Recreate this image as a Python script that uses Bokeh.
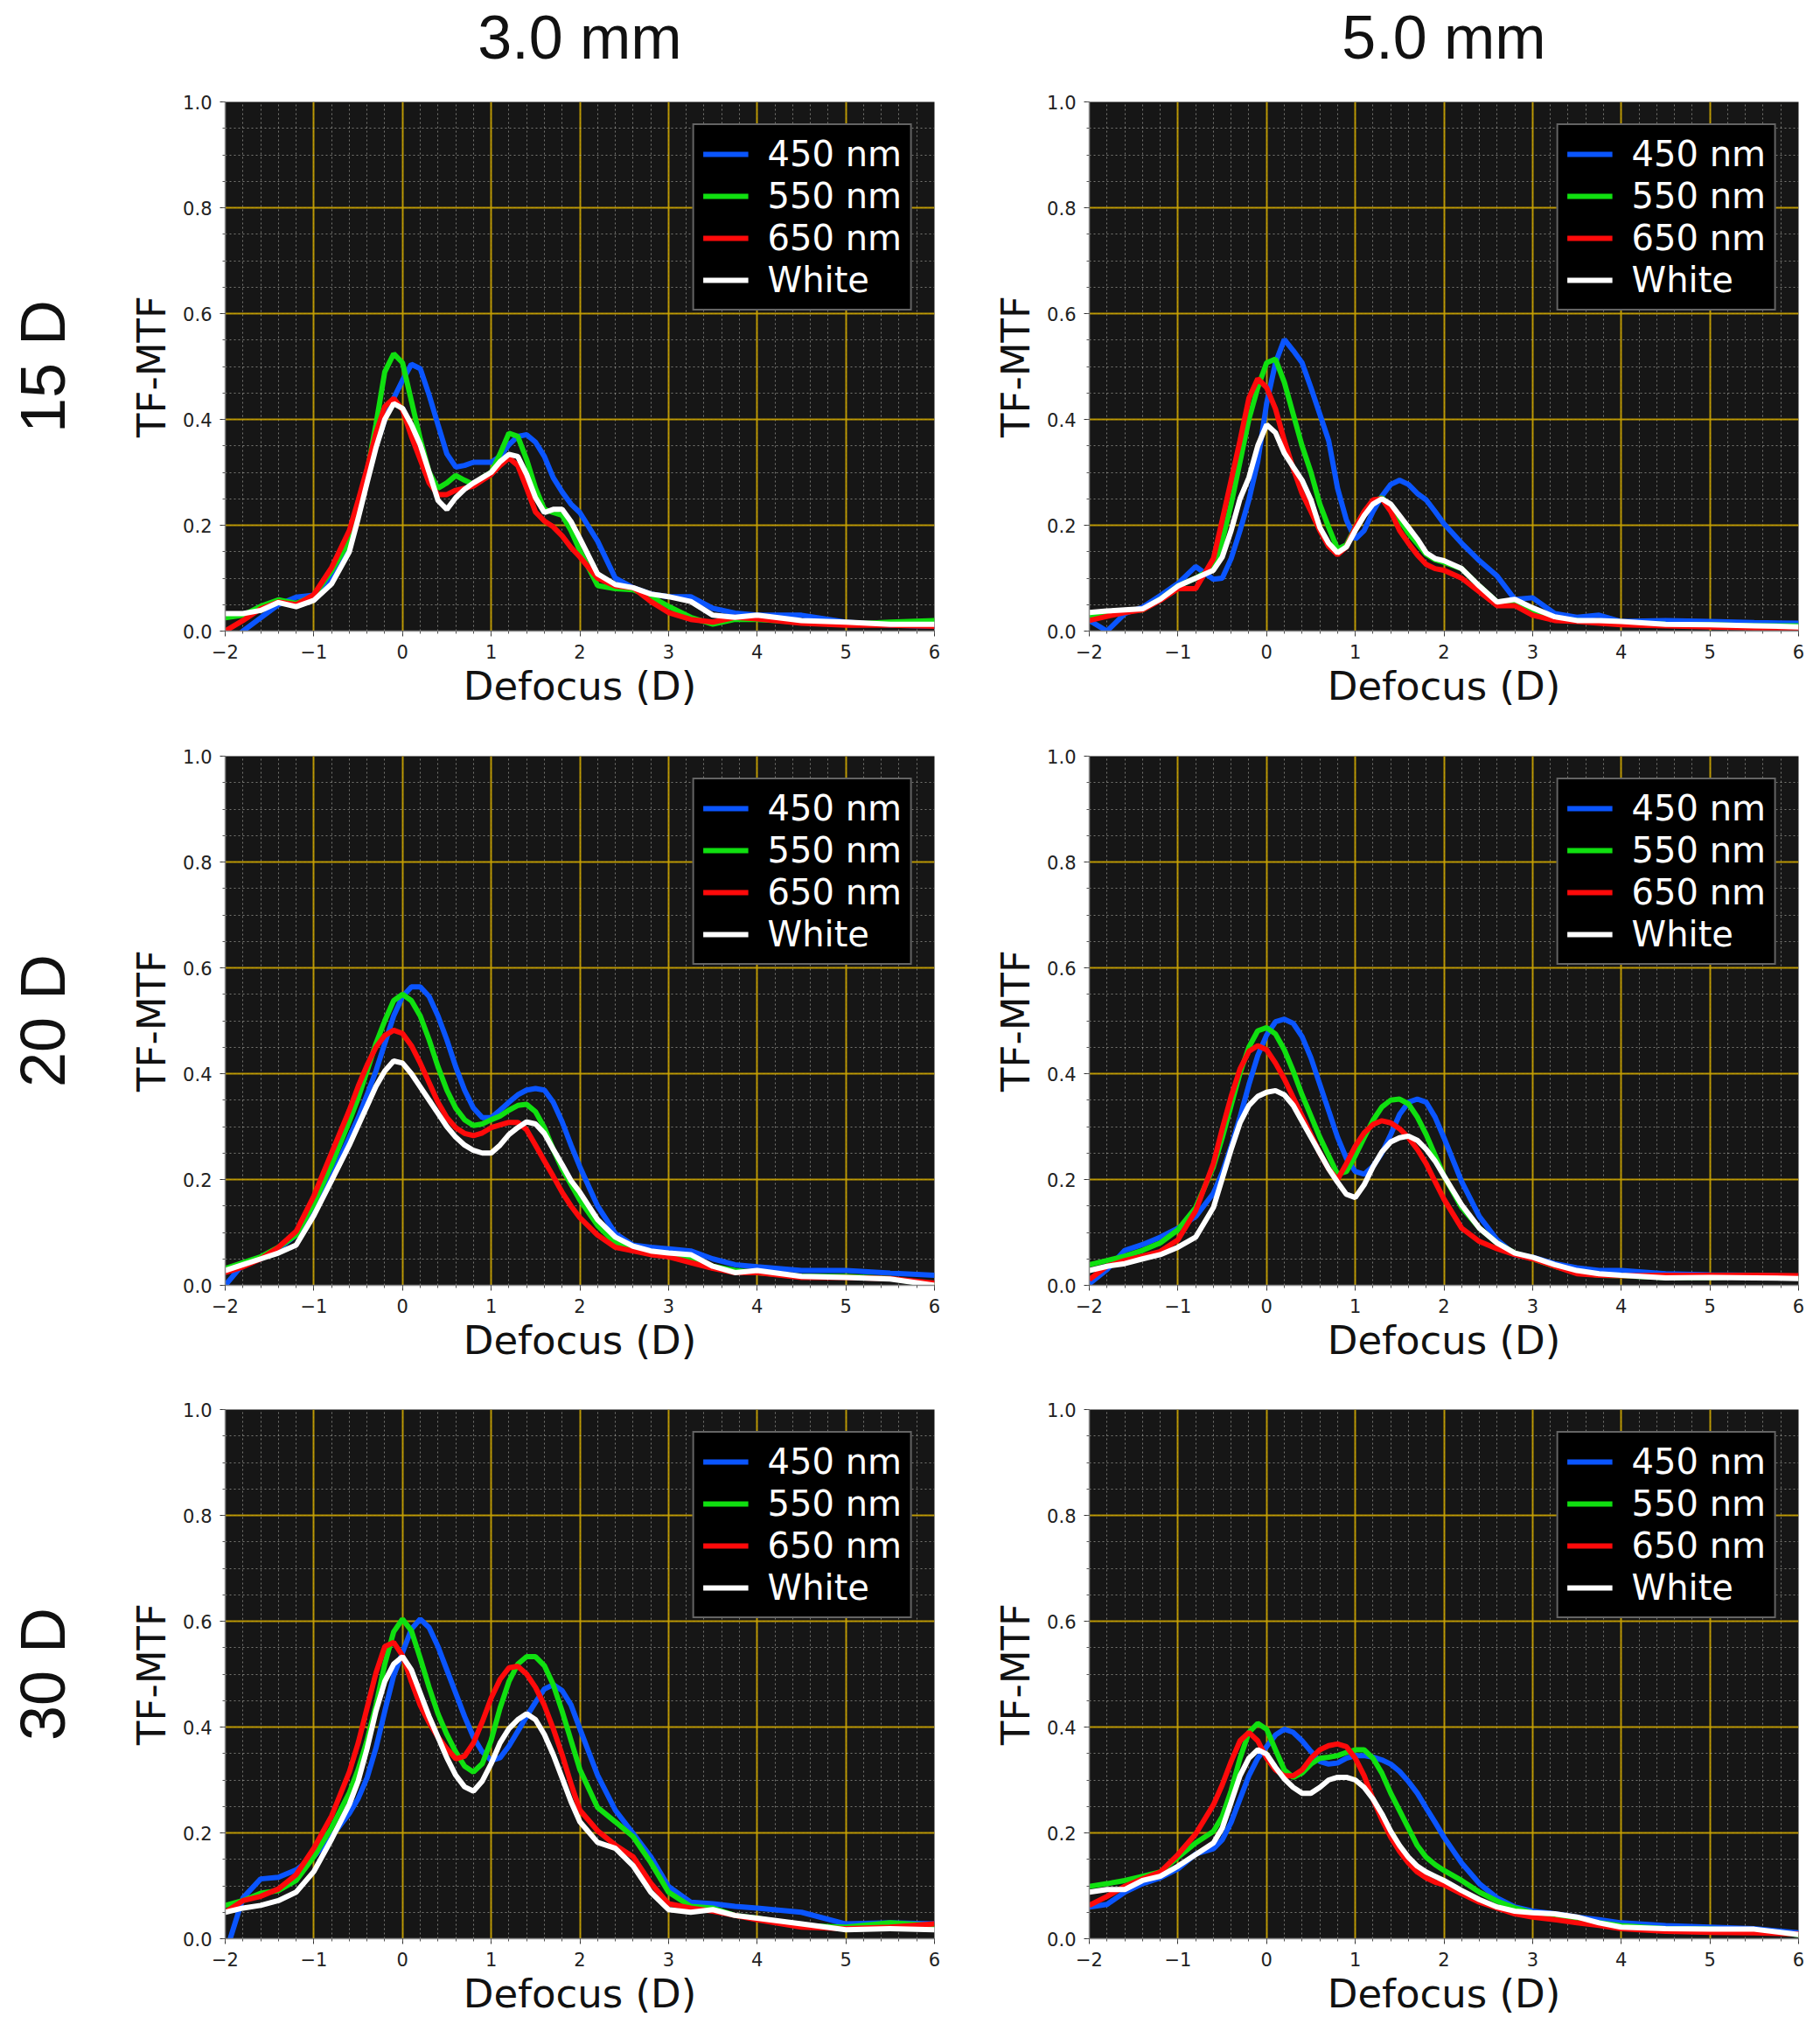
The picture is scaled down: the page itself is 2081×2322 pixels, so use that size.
from bokeh.plotting import figure
from bokeh.layouts import gridplot
from bokeh.models import (Range1d, LinearAxis, FixedTicker, SingleIntervalTicker,
                          PrintfTickFormatter, CustomJSTickFormatter)
from bokeh.embed import file_html
from bokeh.resources import INLINE


# defocus grid (D) shared by every curve
defocus = [-2.0, -1.8, -1.6, -1.4, -1.2, -1.0,
           -0.8, -0.6, -0.5, -0.4, -0.3, -0.2, -0.1,
           0.0, 0.1, 0.2, 0.3, 0.4, 0.5, 0.6, 0.7, 0.8, 0.9,
           1.0, 1.1, 1.2, 1.3, 1.4, 1.5, 1.6, 1.7, 1.8, 1.9,
           2.0, 2.2, 2.4, 2.6, 2.8,
           3.0, 3.25, 3.5, 3.75, 4.0, 4.5, 5.0, 5.5, 6.0]

wavelengths = ["450 nm", "550 nm", "650 nm", "White"]
pupils = ["3.0 mm", "5.0 mm"]
powers = ["15 D", "20 D", "30 D"]

# ---- 15 D, 3.0 mm
d15_p3_450 = [-0.03, 0.0, 0.025, 0.05, 0.064, 0.068,
              0.10, 0.16, 0.224, 0.285, 0.35, 0.40, 0.44,
              0.474, 0.504, 0.496, 0.446, 0.39, 0.335, 0.31, 0.313, 0.319, 0.319,
              0.319, 0.33, 0.352, 0.368, 0.371, 0.357, 0.33, 0.29, 0.263, 0.24,
              0.224, 0.17, 0.10, 0.082, 0.07,
              0.065, 0.065, 0.043, 0.034, 0.03, 0.03, 0.017, 0.011, 0.009]
d15_p3_550 = [0.025, 0.03, 0.047, 0.059, 0.052, 0.067,
              0.114, 0.17, 0.23, 0.30, 0.39, 0.49, 0.524,
              0.507, 0.435, 0.363, 0.30, 0.27, 0.28, 0.294, 0.285, 0.277, 0.29,
              0.30, 0.335, 0.374, 0.368, 0.324, 0.27, 0.23, 0.224, 0.219, 0.19,
              0.152, 0.086, 0.08, 0.078, 0.065,
              0.047, 0.026, 0.013, 0.022, 0.022, 0.017, 0.013, 0.017, 0.02]
d15_p3_650 = [0.0, 0.02, 0.042, 0.055, 0.05, 0.069,
              0.12, 0.19, 0.247, 0.307, 0.374, 0.424, 0.44,
              0.418, 0.368, 0.324, 0.28, 0.258, 0.258, 0.266, 0.27, 0.274, 0.285,
              0.296, 0.313, 0.327, 0.313, 0.27, 0.225, 0.208, 0.197, 0.18, 0.158,
              0.14, 0.10, 0.085, 0.082, 0.056,
              0.035, 0.022, 0.017, 0.026, 0.023, 0.015, 0.011, 0.011, 0.009]
d15_p3_white = [0.033, 0.033, 0.039, 0.054, 0.046, 0.058,
                0.089, 0.15, 0.213, 0.28, 0.346, 0.40, 0.43,
                0.421, 0.39, 0.352, 0.30, 0.247, 0.23, 0.252, 0.268, 0.28, 0.29,
                0.30, 0.32, 0.334, 0.33, 0.296, 0.252, 0.224, 0.23, 0.23, 0.207,
                0.175, 0.108, 0.088, 0.082, 0.07,
                0.065, 0.056, 0.03, 0.026, 0.03, 0.02, 0.017, 0.013, 0.013]

# ---- 15 D, 5.0 mm
d15_p5_450 = [0.02, 0.0, 0.033, 0.045, 0.067, 0.09,
              0.122, 0.098, 0.10, 0.137, 0.19, 0.248, 0.32,
              0.43, 0.507, 0.551, 0.53, 0.507, 0.46, 0.41, 0.36, 0.27, 0.21,
              0.174, 0.19, 0.226, 0.255, 0.277, 0.285, 0.277, 0.26, 0.248, 0.226,
              0.203, 0.166, 0.133, 0.104, 0.06,
              0.063, 0.033, 0.026, 0.03, 0.018, 0.02, 0.018, 0.016, 0.015]
d15_p5_550 = [0.03, 0.03, 0.037, 0.04, 0.06, 0.085,
              0.10, 0.12, 0.17, 0.24, 0.32, 0.40, 0.46,
              0.507, 0.514, 0.47, 0.41, 0.35, 0.30, 0.24, 0.196, 0.155, 0.163,
              0.196, 0.225, 0.245, 0.252, 0.235, 0.21, 0.185, 0.165, 0.145, 0.135,
              0.13, 0.118, 0.085, 0.055, 0.058,
              0.04, 0.025, 0.02, 0.017, 0.015, 0.013, 0.012, 0.01, 0.01]
d15_p5_650 = [0.02, 0.028, 0.035, 0.04, 0.058, 0.08,
              0.08, 0.137, 0.21, 0.285, 0.36, 0.44, 0.477,
              0.46, 0.42, 0.36, 0.307, 0.26, 0.226, 0.19, 0.16, 0.144, 0.159,
              0.196, 0.226, 0.248, 0.25, 0.226, 0.19, 0.166, 0.144, 0.126, 0.118,
              0.115, 0.10, 0.074, 0.048, 0.048,
              0.03, 0.02, 0.018, 0.015, 0.012, 0.01, 0.008, 0.006, 0.006]
d15_p5_white = [0.035, 0.038, 0.04, 0.042, 0.06, 0.085,
                0.10, 0.115, 0.14, 0.19, 0.25, 0.29, 0.35,
                0.39, 0.375, 0.336, 0.31, 0.285, 0.248, 0.196, 0.166, 0.148, 0.159,
                0.19, 0.218, 0.24, 0.25, 0.24, 0.218, 0.196, 0.174, 0.148, 0.137,
                0.133, 0.118, 0.085, 0.055, 0.06,
                0.044, 0.027, 0.02, 0.02, 0.018, 0.013, 0.012, 0.01, 0.008]

# ---- 20 D, 3.0 mm
d20_p3_450 = [0.0, 0.04, 0.05, 0.069, 0.095, 0.143,
              0.205, 0.28, 0.317, 0.36, 0.405, 0.457, 0.509,
              0.546, 0.564, 0.564, 0.546, 0.509, 0.464, 0.413, 0.369, 0.335, 0.317,
              0.317, 0.331, 0.346, 0.36, 0.369, 0.372, 0.369, 0.346, 0.309, 0.265,
              0.224, 0.15, 0.098, 0.076, 0.072,
              0.069, 0.065, 0.05, 0.039, 0.035, 0.028, 0.028, 0.023, 0.019]
d20_p3_550 = [0.032, 0.043, 0.054, 0.072, 0.095, 0.154,
              0.228, 0.31, 0.354, 0.405, 0.457, 0.50, 0.538,
              0.55, 0.538, 0.509, 0.464, 0.413, 0.369, 0.335, 0.313, 0.302, 0.305,
              0.313, 0.32, 0.331, 0.34, 0.342, 0.328, 0.298, 0.257, 0.22, 0.191,
              0.161, 0.113, 0.08, 0.069, 0.061,
              0.059, 0.05, 0.036, 0.028, 0.024, 0.017, 0.017, 0.013, 0.0]
d20_p3_650 = [0.024, 0.035, 0.05, 0.072, 0.102, 0.169,
              0.25, 0.331, 0.376, 0.416, 0.45, 0.472, 0.482,
              0.476, 0.453, 0.42, 0.383, 0.346, 0.317, 0.298, 0.287, 0.283, 0.288,
              0.298, 0.303, 0.308, 0.308, 0.294, 0.265, 0.235, 0.206, 0.176, 0.15,
              0.128, 0.095, 0.072, 0.065, 0.058,
              0.054, 0.043, 0.032, 0.024, 0.024, 0.015, 0.015, 0.013, 0.004]
d20_p3_white = [0.028, 0.039, 0.05, 0.061, 0.076, 0.132,
                0.198, 0.265, 0.302, 0.339, 0.376, 0.405, 0.424,
                0.42, 0.40, 0.375, 0.35, 0.325, 0.30, 0.28, 0.265, 0.255, 0.25,
                0.25, 0.265, 0.285, 0.298, 0.309, 0.305, 0.287, 0.257, 0.228, 0.198,
                0.176, 0.124, 0.091, 0.074, 0.065,
                0.061, 0.058, 0.036, 0.024, 0.028, 0.017, 0.015, 0.012, 0.0]

# ---- 20 D, 5.0 mm
d20_p5_450 = [0.003, 0.03, 0.066, 0.077, 0.091, 0.108,
              0.13, 0.174, 0.213, 0.263, 0.318, 0.379, 0.434,
              0.473, 0.498, 0.503, 0.495, 0.47, 0.43, 0.38, 0.33, 0.28, 0.24,
              0.215, 0.21, 0.225, 0.25, 0.285, 0.323, 0.346, 0.352, 0.346, 0.318,
              0.279, 0.196, 0.13, 0.086, 0.058,
              0.053, 0.041, 0.033, 0.028, 0.028, 0.022, 0.02, 0.019, 0.017]
d20_p5_550 = [0.039, 0.047, 0.055, 0.066, 0.08, 0.105,
              0.147, 0.224, 0.279, 0.34, 0.401, 0.45, 0.481,
              0.487, 0.475, 0.445, 0.405, 0.36, 0.32, 0.28, 0.245, 0.21, 0.215,
              0.245, 0.279, 0.312, 0.337, 0.35, 0.352, 0.343, 0.318, 0.285, 0.246,
              0.207, 0.147, 0.108, 0.08, 0.061,
              0.05, 0.036, 0.025, 0.019, 0.018, 0.015, 0.015, 0.017, 0.015]
d20_p5_650 = [0.011, 0.036, 0.047, 0.055, 0.064, 0.086,
              0.141, 0.23, 0.296, 0.357, 0.409, 0.442, 0.453,
              0.445, 0.42, 0.39, 0.355, 0.32, 0.285, 0.25, 0.22, 0.20, 0.23,
              0.263, 0.288, 0.304, 0.311, 0.307, 0.296, 0.279, 0.257, 0.23, 0.196,
              0.163, 0.108, 0.083, 0.069, 0.058,
              0.05, 0.036, 0.022, 0.019, 0.018, 0.019, 0.019, 0.019, 0.018]
d20_p5_white = [0.028, 0.036, 0.041, 0.05, 0.058, 0.072,
                0.091, 0.147, 0.202, 0.257, 0.307, 0.34, 0.357,
                0.365, 0.368, 0.36, 0.34, 0.31, 0.28, 0.25, 0.22, 0.195, 0.172,
                0.166, 0.19, 0.224, 0.252, 0.271, 0.279, 0.282, 0.274, 0.257, 0.235,
                0.207, 0.152, 0.108, 0.08, 0.061,
                0.053, 0.039, 0.028, 0.022, 0.019, 0.014, 0.015, 0.014, 0.013]

# ---- 30 D, 3.0 mm
d30_p3_450 = [-0.03, 0.077, 0.113, 0.116, 0.13, 0.155,
              0.193, 0.237, 0.265, 0.304, 0.36, 0.43, 0.497,
              0.541, 0.585, 0.604, 0.588, 0.552, 0.508, 0.464, 0.42, 0.381, 0.353,
              0.337, 0.342, 0.364, 0.392, 0.42, 0.447, 0.472, 0.48, 0.469, 0.442,
              0.397, 0.309, 0.243, 0.199, 0.155,
              0.099, 0.069, 0.066, 0.061, 0.058, 0.05, 0.028, 0.03, 0.028]
d30_p3_550 = [0.063, 0.072, 0.086, 0.091, 0.11, 0.155,
              0.21, 0.276, 0.32, 0.375, 0.441, 0.519, 0.58,
              0.604, 0.582, 0.53, 0.475, 0.425, 0.386, 0.353, 0.326, 0.315, 0.331,
              0.375, 0.436, 0.486, 0.519, 0.533, 0.533, 0.516, 0.48, 0.43, 0.375,
              0.32, 0.248, 0.221, 0.193, 0.144,
              0.088, 0.061, 0.058, 0.044, 0.039, 0.025, 0.022, 0.03, 0.025]
d30_p3_650 = [0.05, 0.072, 0.08, 0.094, 0.121, 0.171,
              0.232, 0.315, 0.37, 0.436, 0.502, 0.552, 0.56,
              0.535, 0.486, 0.441, 0.408, 0.381, 0.359, 0.34, 0.345, 0.37, 0.41,
              0.455, 0.49, 0.512, 0.515, 0.50, 0.475, 0.441, 0.397, 0.348, 0.293,
              0.243, 0.204, 0.177, 0.155, 0.105,
              0.066, 0.058, 0.052, 0.044, 0.036, 0.022, 0.019, 0.022, 0.028]
d30_p3_white = [0.05, 0.058, 0.063, 0.072, 0.088, 0.127,
                0.188, 0.254, 0.298, 0.359, 0.43, 0.486, 0.519,
                0.533, 0.508, 0.464, 0.42, 0.381, 0.342, 0.309, 0.287, 0.279, 0.298,
                0.331, 0.37, 0.397, 0.414, 0.425, 0.414, 0.386, 0.348, 0.304, 0.259,
                0.221, 0.182, 0.171, 0.138, 0.088,
                0.055, 0.05, 0.055, 0.044, 0.039, 0.028, 0.017, 0.019, 0.017]

# ---- 30 D, 5.0 mm
d30_p5_450 = [0.06, 0.065, 0.088, 0.104, 0.115, 0.132,
              0.16, 0.17, 0.187, 0.22, 0.264, 0.308, 0.341,
              0.363, 0.385, 0.396, 0.39, 0.374, 0.354, 0.335, 0.33, 0.332, 0.341,
              0.346, 0.346, 0.343, 0.338, 0.33, 0.316, 0.297, 0.275, 0.247, 0.22,
              0.192, 0.143, 0.104, 0.077, 0.06,
              0.052, 0.047, 0.041, 0.036, 0.03, 0.025, 0.022, 0.019, 0.011]
d30_p5_550 = [0.099, 0.104, 0.11, 0.118, 0.126, 0.154,
              0.181, 0.203, 0.231, 0.28, 0.341, 0.39, 0.407,
              0.396, 0.357, 0.319, 0.305, 0.313, 0.33, 0.341, 0.343, 0.346, 0.352,
              0.357, 0.357, 0.341, 0.313, 0.275, 0.242, 0.209, 0.176, 0.154, 0.14,
              0.129, 0.11, 0.088, 0.071, 0.058,
              0.049, 0.044, 0.038, 0.03, 0.025, 0.019, 0.018, 0.015, 0.008]
d30_p5_650 = [0.063, 0.08, 0.099, 0.113, 0.126, 0.159,
              0.198, 0.253, 0.291, 0.335, 0.374, 0.39, 0.374,
              0.341, 0.319, 0.308, 0.308, 0.319, 0.341, 0.357, 0.365, 0.368, 0.363,
              0.341, 0.308, 0.264, 0.225, 0.192, 0.165, 0.143, 0.126, 0.115, 0.107,
              0.102, 0.085, 0.069, 0.058, 0.047,
              0.041, 0.036, 0.03, 0.025, 0.019, 0.014, 0.012, 0.011, 0.009]
d30_p5_white = [0.088, 0.093, 0.093, 0.11, 0.118, 0.137,
                0.159, 0.181, 0.209, 0.258, 0.308, 0.341, 0.357,
                0.349, 0.324, 0.302, 0.286, 0.275, 0.275, 0.286, 0.30, 0.305, 0.305,
                0.30, 0.286, 0.264, 0.236, 0.203, 0.176, 0.154, 0.137, 0.126, 0.118,
                0.11, 0.091, 0.074, 0.06, 0.052,
                0.049, 0.047, 0.041, 0.03, 0.022, 0.019, 0.018, 0.018, 0.008]

panels = [
    [[d15_p3_450, d15_p3_550, d15_p3_650, d15_p3_white],
     [d15_p5_450, d15_p5_550, d15_p5_650, d15_p5_white]],
    [[d20_p3_450, d20_p3_550, d20_p3_650, d20_p3_white],
     [d20_p5_450, d20_p5_550, d20_p5_650, d20_p5_white]],
    [[d30_p3_450, d30_p3_550, d30_p3_650, d30_p3_white],
     [d30_p5_450, d30_p5_550, d30_p5_650, d30_p5_white]],
]

line_colors = ["#0a55ff", "#10e010", "#ff0a0a", "#ffffff"]

FRAME_W, FRAME_H = 811, 605
TEXT_FONT = "DejaVu Sans"
HEAD_FONT = "Liberation Sans"
row_borders = [(116, 92), (51, 92), (50, 92)]
col_borders = [(257, 40), (137, 12)]

minus_fmt = CustomJSTickFormatter(
    code="return tick < 0 ? '\\u2212' + Math.abs(tick).toFixed(0) : tick.toFixed(0);")


def label_axis(text, size, standoff):
    # tickless axis used only to carry a heading outside the frame
    return LinearAxis(ticker=FixedTicker(ticks=[]), axis_label=text,
                      axis_line_color=None, major_tick_line_color=None,
                      minor_tick_line_color=None, major_label_text_font_size="0px",
                      axis_label_text_font=HEAD_FONT, axis_label_text_font_size=size,
                      axis_label_text_font_style="normal", axis_label_text_color="#111111",
                      axis_label_standoff=standoff)


def make_panel(r, c):
    top, bottom = row_borders[r]
    left, right = col_borders[c]
    p = figure(width=left + FRAME_W + right, height=top + FRAME_H + bottom,
               x_range=Range1d(-2, 6), y_range=Range1d(0, 1),
               min_border_left=left, min_border_right=right,
               min_border_top=top, min_border_bottom=bottom,
               output_backend="svg", toolbar_location=None)
    p.background_fill_color = "#161616"
    p.border_fill_color = "white"
    p.outline_line_color = None

    xt = SingleIntervalTicker(interval=1, num_minor_ticks=5)
    yt = SingleIntervalTicker(interval=0.2, num_minor_ticks=4)
    p.xaxis.ticker = xt
    p.xgrid.ticker = xt
    p.yaxis.ticker = yt
    p.ygrid.ticker = yt
    p.xaxis.formatter = minus_fmt
    p.yaxis.formatter = PrintfTickFormatter(format="%.1f")

    for g in (p.xgrid, p.ygrid):
        g.grid_line_color = "#c9a200"
        g.grid_line_width = 2
        g.grid_line_alpha = 0.9
        g.minor_grid_line_color = "#b8b8b0"
        g.minor_grid_line_alpha = 0.6
        g.minor_grid_line_dash = "2 3"
        g.minor_grid_line_width = 1

    for ax in (p.xaxis, p.yaxis):
        ax.axis_line_color = "#8c8c8c"
        ax.axis_line_width = 1.5
        ax.major_tick_line_color = "#333333"
        ax.minor_tick_line_color = "#555555"
        ax.major_tick_out = 6
        ax.major_tick_in = 0
        ax.minor_tick_out = 3
        ax.minor_tick_in = 0
        ax.major_label_text_font = TEXT_FONT
        ax.major_label_text_font_size = "21px"
        ax.major_label_text_color = "#222222"
        ax.major_label_standoff = 9
        ax.axis_label_text_font = TEXT_FONT
        ax.axis_label_text_font_size = "45px"
        ax.axis_label_text_font_style = "normal"
        ax.axis_label_text_color = "#111111"
    p.xaxis.axis_label = "Defocus (D)"
    p.xaxis.axis_label_standoff = 2
    p.yaxis.axis_label = "TF-MTF"
    p.yaxis.axis_label_standoff = 6

    for label, color, ys in zip(wavelengths, line_colors, panels[r][c]):
        p.line(defocus, ys, line_color=color, line_width=6, legend_label=label)

    lg = p.legend[0]
    lg.location = "top_right"
    lg.margin = 25
    lg.padding = 10
    lg.spacing = 2
    lg.glyph_width = 52
    lg.glyph_height = 38
    lg.label_height = 38
    lg.label_standoff = 22
    lg.label_text_font = TEXT_FONT
    lg.label_text_font_size = "40px"
    lg.label_text_color = "white"
    lg.background_fill_color = "black"
    lg.background_fill_alpha = 1.0
    lg.border_line_color = "#c8c8c8"
    lg.border_line_width = 2

    if r == 0:
        p.add_layout(label_axis(pupils[c], "70px", 35), "above")
    if c == 0:
        p.add_layout(label_axis(powers[r], "72px", 56), "left")
    return p


grid = gridplot([[make_panel(r, c) for c in range(2)] for r in range(3)],
                toolbar_location=None)

open("out.html", "w").write(file_html(grid, INLINE))
